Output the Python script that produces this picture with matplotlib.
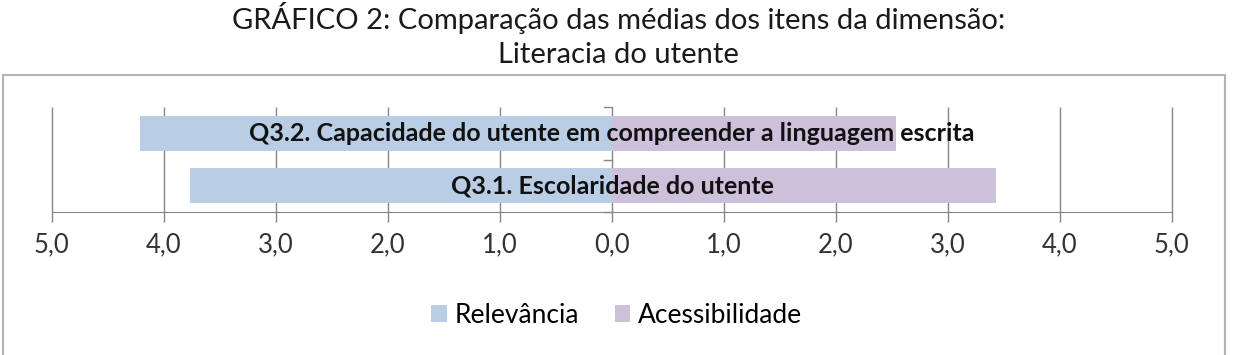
import matplotlib.pyplot as plt
from matplotlib.patches import Rectangle

plt.rcParams['font.family'] = ['Lato', 'DejaVu Sans']

# data
categories = ["Q3.1. Escolaridade do utente",
              "Q3.2. Capacidade do utente em compreender a linguagem escrita"]
relevancia = [3.77, 4.21]
acessibilidade = [3.43, 2.54]
ticks = [-5, -4, -3, -2, -1, 0, 1, 2, 3, 4, 5]
tick_labels = ["5,0", "4,0", "3,0", "2,0", "1,0", "0,0", "1,0", "2,0", "3,0", "4,0", "5,0"]

blue = "#B9CDE5"
purple = "#CCC0DA"
grid = "#868686"

fig = plt.figure(figsize=(12.37, 3.55), dpi=100)

# chart frame
fig.patches.append(Rectangle((0.0025, -0.02), 0.9875, 0.809, transform=fig.transFigure,
                             fill=False, edgecolor="#B4B4B4", linewidth=1.5))

fig.text(0.5, 0.919, "GRÁFICO 2: Comparação das médias dos itens da dimensão:",
         ha="center", va="baseline", fontsize=21, color="#1a1a1a")
fig.text(0.5, 0.8225, "Literacia do utente", ha="center", va="baseline",
         fontsize=21, color="#1a1a1a")

ax = fig.add_axes([0.042, 0.4028, 0.9054, 0.2958])
y = range(len(categories))
ax.barh(y, [-v for v in relevancia], height=0.67, color=blue, zorder=2, label="Relevância")
ax.barh(y, acessibilidade, height=0.67, color=purple, zorder=2, label="Acessibilidade")

for i, name in enumerate(categories):
    ax.text(0, i, name, ha="center", va="center", fontsize=18, fontweight="bold",
            color="#111111", zorder=3)

ax.set_xlim(-5, 5)
ax.set_ylim(-0.5, 1.5)
ax.set_xticks(ticks)
ax.set_xticklabels(tick_labels, fontsize=18.5, color="#333333")
ax.tick_params(axis="x", length=7.5, width=1, color=grid, pad=7)
ax.set_yticks([])
# gridlines (drawn unclipped so the outer ones show fully)
ax.vlines(ticks, -0.5, 1.5, color=grid, linewidth=1, zorder=0, clip_on=False)
for s in ["top", "right", "left"]:
    ax.spines[s].set_visible(False)
ax.spines["bottom"].set_color(grid)

# category axis ticks at zero
for yy in [-0.5, 0.5, 1.5]:
    ax.plot([-0.07, 0], [yy, yy], color=grid, lw=1, zorder=1, clip_on=False)

ax.legend(loc="center", bbox_to_anchor=(0.4985, 0.112), bbox_transform=fig.transFigure,
          ncol=2, frameon=False, fontsize=19, handlelength=0.6, handleheight=0.6,
          columnspacing=1.35, handletextpad=0.3)

fig.savefig("out.png", dpi=100)
